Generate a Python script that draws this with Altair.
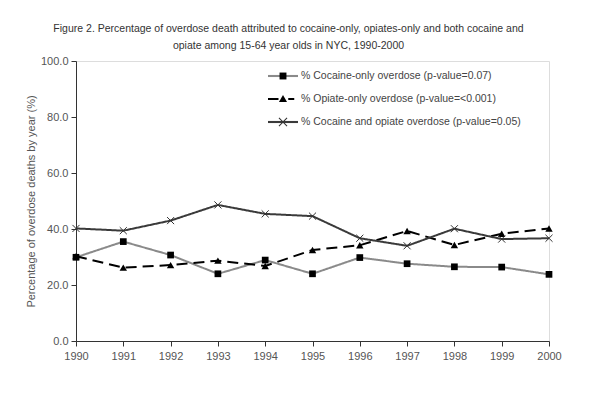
import altair as alt
import pandas as pd

years = [1990, 1991, 1992, 1993, 1994, 1995, 1996, 1997, 1998, 1999, 2000]
series_names = [
    "% Cocaine-only overdose (p-value=0.07)",
    "% Opiate-only overdose (p-value=<0.001)",
    "% Cocaine and opiate overdose (p-value=0.05)",
]
cocaine_only = [29.9, 35.5, 30.7, 24.0, 28.9, 24.0, 29.8, 27.6, 26.5, 26.4, 23.8]
opiate_only = [30.3, 26.2, 27.1, 28.7, 26.8, 32.5, 34.2, 39.3, 34.3, 38.3, 40.2]
cocaine_and_opiate = [40.2, 39.4, 43.0, 48.6, 45.4, 44.6, 36.7, 34.0, 40.1, 36.4, 36.7]

title_lines = [
    "Figure 2. Percentage of overdose death attributed to cocaine-only, opiates-only and both cocaine and",
    "opiate among 15-64 year olds in NYC, 1990-2000",
]
y_title = "Percentage of overdose deaths by year (%)"
y_ticks = [0, 20, 40, 60, 80, 100]

rows = []
for name, vals in zip(series_names, [cocaine_only, opiate_only, cocaine_and_opiate]):
    for yr, v in zip(years, vals):
        rows.append({"year": yr, "series": name, "value": v})
df = pd.DataFrame(rows)

FONT = "Liberation Sans"
line_colors = ["#8a8a8a", "#000000", "#3a3a3a"]
dashes = [[1, 0], [11, 6], [1, 0]]

base = alt.Chart(df).encode(
    x=alt.X("year:Q", scale=alt.Scale(domain=[1990, 2000], nice=False, zero=False),
            axis=alt.Axis(values=years, format="d", title=None, grid=False, tickSize=5,
                          labelFlush=False, labelPadding=4, labelFontSize=11, labelFont=FONT,
                          labelColor="#555", domainColor="#333", tickColor="#333")),
    y=alt.Y("value:Q", scale=alt.Scale(domain=[0, 100], nice=False),
            axis=alt.Axis(values=y_ticks, format=".1f", title=y_title, grid=False, tickSize=5,
                          labelFlush=False, labelPadding=3, labelFontSize=11, labelFont=FONT,
                          labelColor="#555",
                          titleFont=FONT, titleFontSize=11, titleFontWeight="normal",
                          titleColor="#555", titlePadding=4,
                          domainColor="#333", tickColor="#333")),
)

lines = base.mark_line(strokeWidth=2).encode(
    color=alt.Color("series:N", scale=alt.Scale(domain=series_names, range=line_colors), legend=None),
    strokeDash=alt.StrokeDash("series:N", scale=alt.Scale(domain=series_names, range=dashes), legend=None),
)

pts_coc = base.transform_filter(alt.datum.series == series_names[0]).mark_point(
    shape="square", filled=True, color="#000", size=45, opacity=1)
pts_op = base.transform_filter(alt.datum.series == series_names[1]).mark_point(
    shape="triangle-up", filled=True, color="#000", size=55, opacity=1)
pts_comb = base.transform_filter(alt.datum.series == series_names[2]).mark_point(
    shape="M-1,-1L1,1M-1,1L1,-1", filled=False, color="#333", size=50, strokeWidth=1, opacity=1)

# legend symbols (custom paths: line segment part / marker part)
seg = "M-1,-0.07L1,-0.07L1,0.07L-1,0.07Z"
dash_seg = "M-1,-0.07L-0.3,-0.07L-0.3,0.07L-1,0.07Z M0.35,-0.07L0.75,-0.07L0.75,0.07L0.35,0.07Z"
legend_line_paths = [seg, dash_seg, seg]
sq = "M-0.23,-0.23L0.23,-0.23L0.23,0.23L-0.23,0.23Z"
tri = "M0,-0.27L0.27,0.2L-0.27,0.2Z"
xx = ("M-0.295,-0.245L0.245,0.295L0.295,0.245L-0.245,-0.295Z "
      "M-0.295,0.245L0.245,-0.295L0.295,-0.245L-0.245,0.295Z")
legend_marker_paths = [sq, tri, xx]
marker_colors = ["#000000", "#000000", "#333333"]


def legend_layer(paths, colors, label_opacity):
    leg = alt.Legend(title=None, orient="none", legendX=192, legendY=0, symbolSize=900,
                     labelFont=FONT, labelFontSize=10.5, labelColor="#444", labelOpacity=label_opacity,
                     labelLimit=500, labelOffset=3, rowPadding=2, padding=0, symbolStrokeWidth=0)
    return alt.Chart(df).transform_filter("false").mark_point(filled=True, opacity=1, size=900).encode(
        x="year:Q", y="value:Q",
        shape=alt.Shape("series:N", scale=alt.Scale(domain=series_names, range=paths), legend=leg),
        color=alt.Color("series:N", scale=alt.Scale(domain=series_names, range=colors), legend=leg),
    )


leg_lines = legend_layer(legend_line_paths, line_colors, 1)
leg_marks = legend_layer(legend_marker_paths, marker_colors, 0)

chart = alt.layer(lines, pts_coc, pts_op, pts_comb, leg_lines, leg_marks).resolve_scale(
    color="independent", shape="independent", strokeDash="independent"
).properties(
    width=473, height=280,
    autosize=alt.AutoSizeParams(type="none"),
    padding={"left": 68, "top": 53, "right": 20, "bottom": 40},
    title=alt.TitleParams(title_lines, font=FONT, fontSize=10.5, fontWeight="normal", color="#333",
                          anchor="middle", dx=-24, offset=4, lineHeight=17),
).configure_view(stroke=None).configure(background="white")

chart.save("out.html", embed_options={"renderer": "svg", "actions": False})
